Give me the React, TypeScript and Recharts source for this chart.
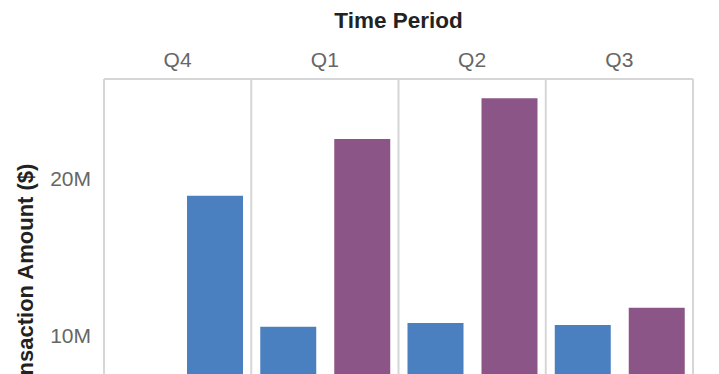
import { BarChart, Bar, XAxis, YAxis, CartesianGrid } from 'recharts';

// Quarter panels, left to right
const quarters = ['Q4', 'Q1', 'Q2', 'Q3'];

// Transaction amounts in $ millions
const blueFirst = [null, 10.59, 10.83, 10.7];
const blueSecond = [18.94, null, null, null];
const purpleSecond = [null, 22.55, 25.14, 11.8];

const yTicks = [0, 10, 20];

const data = quarters.map((quarter, i) => ({
  quarter,
  blueFirst: blueFirst[i] == null ? null : blueFirst[i]! * 1e6,
  blueSecond: blueSecond[i] == null ? null : blueSecond[i]! * 1e6,
  purpleSecond: purpleSecond[i] == null ? null : purpleSecond[i]! * 1e6,
}));

const BLUE = '#4a7fc0';
const PURPLE = '#8b5687';
const FONT = '"Liberation Sans", Arial, sans-serif';

export default function App() {
  return (
    <div
      style={{
        position: 'absolute',
        left: 0,
        top: 0,
        width: 719,
        height: 374,
        overflow: 'hidden',
        background: '#fff',
        fontFamily: FONT,
      }}
    >
      <BarChart
        width={719}
        height={493}
        data={data}
        margin={{ top: 0, right: 26, bottom: 0, left: 0 }}
        barCategoryGap={9}
        barGap={18}
      >
        <CartesianGrid
          stroke="#d6d6d6"
          strokeWidth={2}
          verticalCoordinatesGenerator={({ offset }: any) =>
            [0, 1, 2, 3, 4].map((i) => offset.left + (i * offset.width) / 4)
          }
          horizontalCoordinatesGenerator={({ offset }: any) => [offset.top]}
        />
        <XAxis
          dataKey="quarter"
          orientation="top"
          height={79}
          tickLine={false}
          axisLine={false}
          tickSize={0}
          tickMargin={12}
          tick={{ fill: '#666', fontSize: 21, fontFamily: FONT }}
          label={{
            value: 'Time Period',
            position: 'insideTop',
            offset: 12,
            style: { fill: '#222', fontSize: 22.5, fontWeight: 'bold', fontFamily: FONT },
          }}
        />
        <YAxis
          type="number"
          width={104}
          domain={[0, 26.37e6]}
          ticks={yTicks.map((t) => t * 1e6)}
          tickFormatter={(v: number) => `${v / 1e6}M`}
          tickLine={false}
          axisLine={false}
          tickSize={0}
          tickMargin={13}
          tick={{ fill: '#666', fontSize: 21, fontFamily: FONT }}
          label={{
            value: 'Transaction Amount ($)',
            angle: -90,
            position: 'insideLeft',
            offset: 25,
            style: {
              textAnchor: 'middle',
              fill: '#222',
              fontSize: 22,
              fontWeight: 'bold',
              fontFamily: FONT,
            },
          }}
        />
        <Bar dataKey="blueFirst" stackId="a" fill={BLUE} isAnimationActive={false} />
        <Bar dataKey="blueSecond" stackId="b" fill={BLUE} isAnimationActive={false} />
        <Bar dataKey="purpleSecond" stackId="b" fill={PURPLE} isAnimationActive={false} />
      </BarChart>
    </div>
  );
}
